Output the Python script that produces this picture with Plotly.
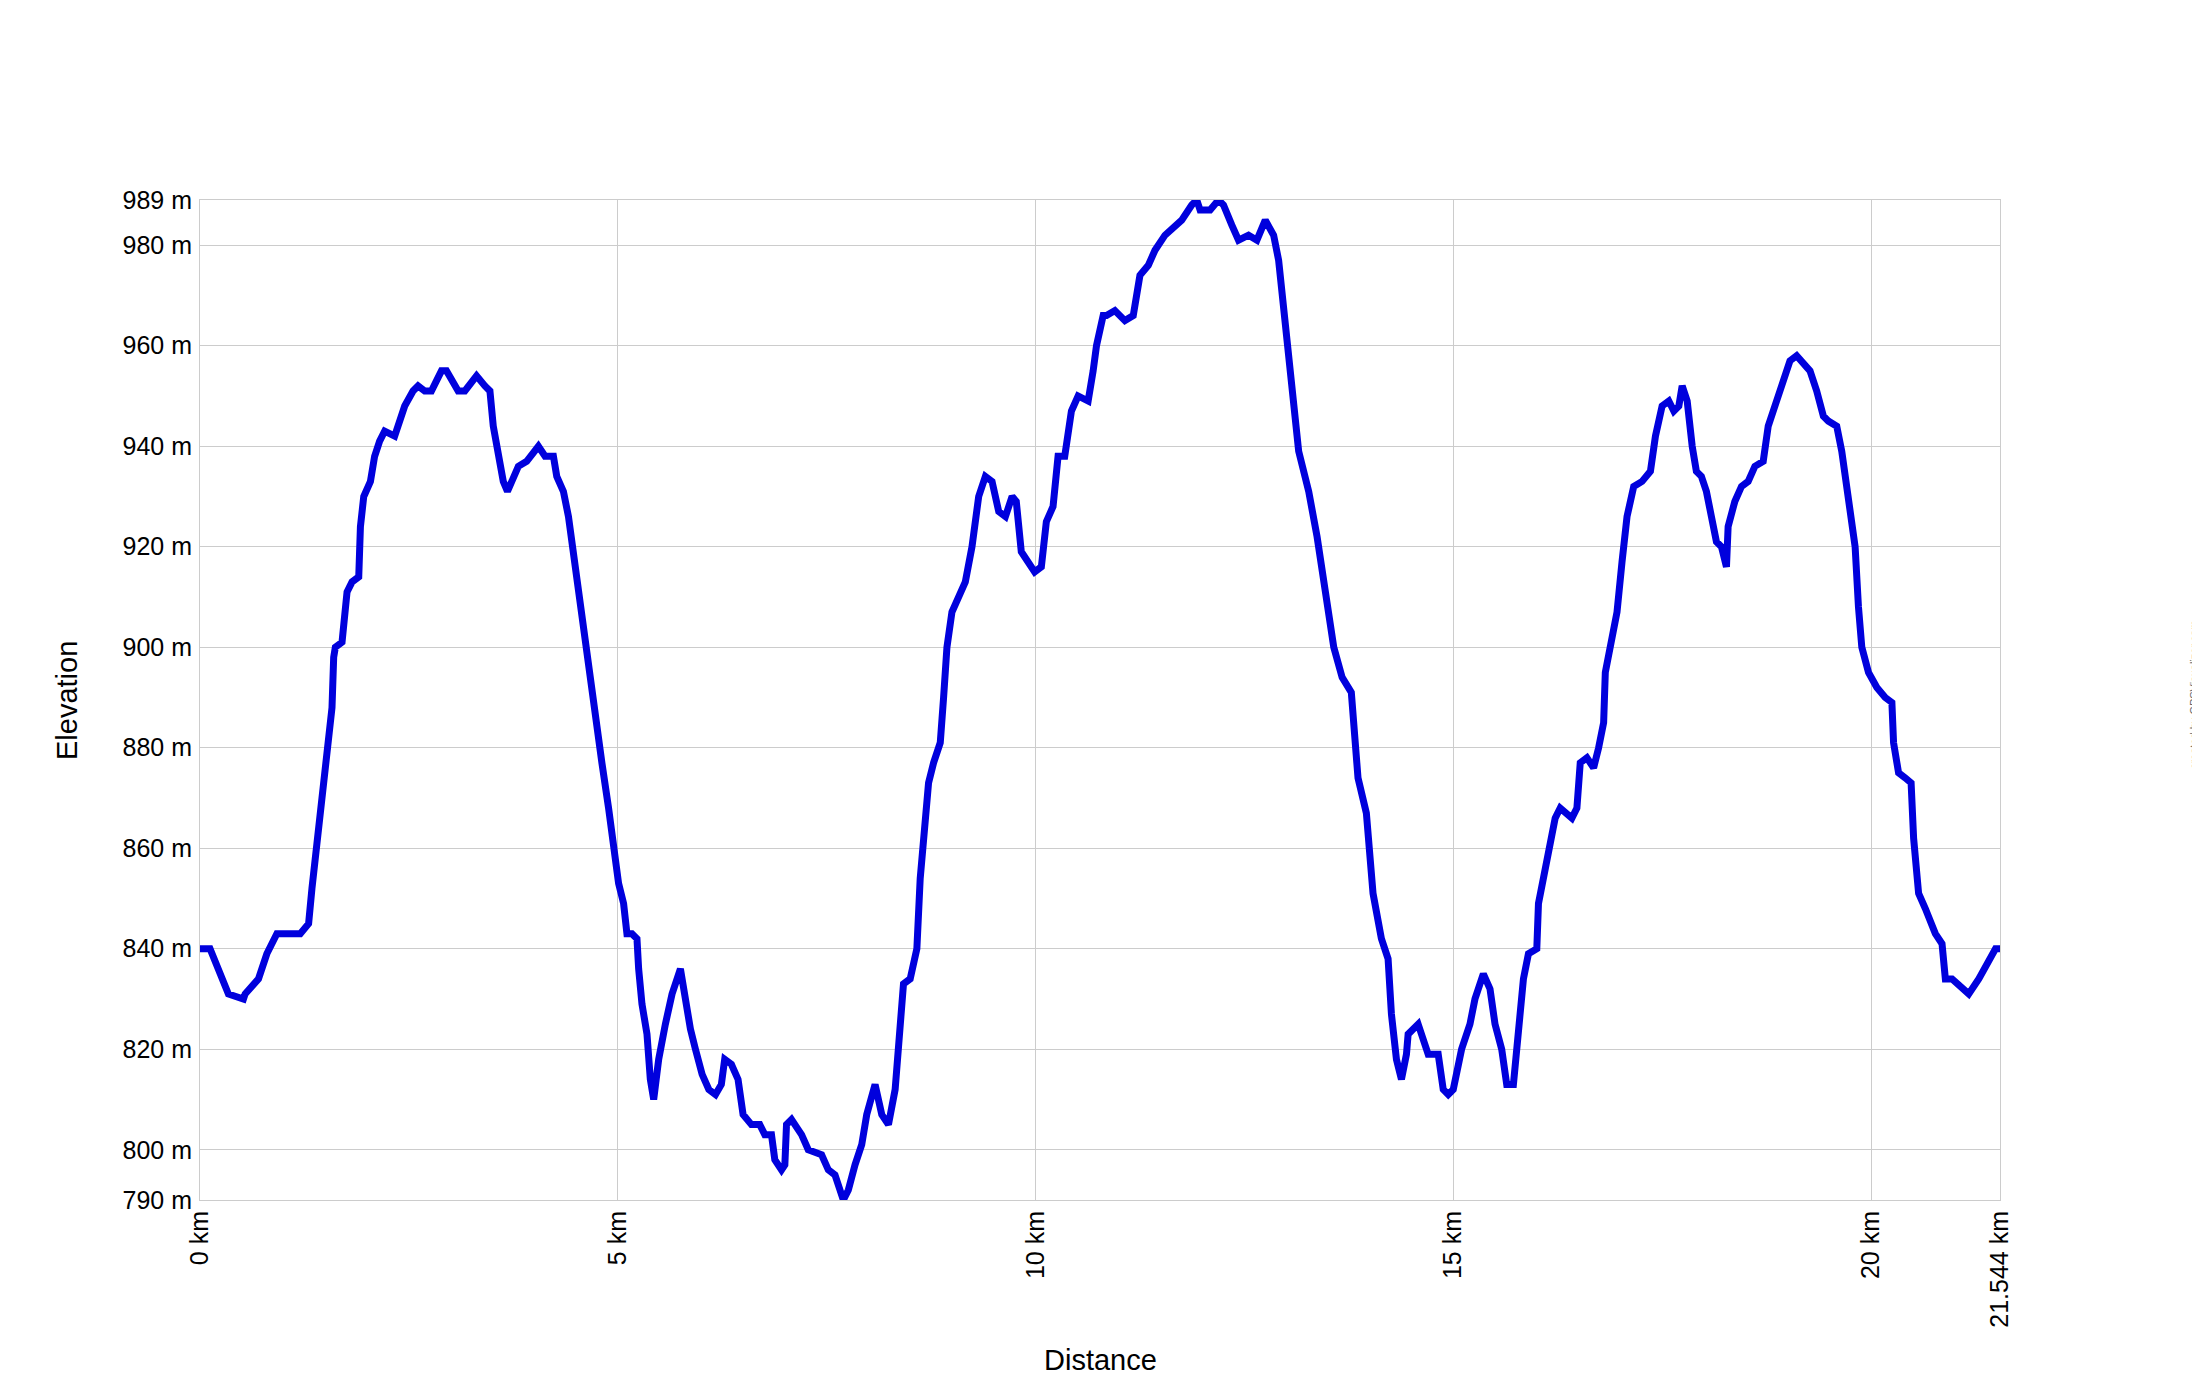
import plotly.graph_objects as go

distance_km = [
    0, 0.12, 0.34, 0.52, 0.54, 0.66, 0.70, 0.80, 0.90, 0.92, 1.20, 1.30, 1.34, 1.40, 1.44, 1.48,
    1.54, 1.58, 1.60, 1.62, 1.70, 1.72, 1.76, 1.82, 1.90, 1.92, 1.96, 2.04, 2.09, 2.15, 2.21,
    2.33, 2.39, 2.45, 2.55, 2.61, 2.69, 2.77, 2.83, 2.89, 2.95, 3.01, 3.09, 3.17, 3.25, 3.31,
    3.41, 3.47, 3.51, 3.57, 3.63, 3.68, 3.75, 3.81, 3.91, 3.99, 4.05, 4.13, 4.23, 4.27, 4.35,
    4.41, 4.49, 4.57, 4.65, 4.73, 4.81, 4.89, 4.95, 5.01, 5.07, 5.11, 5.17, 5.23, 5.25, 5.29,
    5.35, 5.39, 5.43, 5.49, 5.57, 5.65, 5.75, 5.81, 5.87, 5.93, 6.01, 6.09, 6.17, 6.24, 6.28,
    6.36, 6.44, 6.50, 6.60, 6.70, 6.76, 6.84, 6.88, 6.96, 7.00, 7.02, 7.08, 7.16, 7.20, 7.28,
    7.44, 7.52, 7.60, 7.70, 7.76, 7.84, 7.92, 7.98, 8.08, 8.16, 8.24, 8.32, 8.38, 8.42, 8.50,
    8.58, 8.62, 8.68, 8.72, 8.78, 8.86, 8.90, 8.94, 9.00, 9.08, 9.16, 9.24, 9.32, 9.40, 9.48,
    9.56, 9.64, 9.72, 9.77, 9.83, 9.91, 9.99, 10.07, 10.13, 10.21, 10.27, 10.35, 10.43, 10.51,
    10.63, 10.69, 10.73, 10.81, 10.85, 10.95, 11.07, 11.17, 11.25, 11.35, 11.43, 11.55, 11.67,
    11.75, 11.87, 11.93, 11.97, 12.09, 12.19, 12.25, 12.35, 12.43, 12.55, 12.65, 12.75, 12.85,
    12.91, 12.99, 13.07, 13.15, 13.27, 13.37, 13.47, 13.57, 13.67, 13.78, 13.86, 13.96, 14.04,
    14.14, 14.22, 14.26, 14.32, 14.38, 14.44, 14.46, 14.58, 14.66, 14.70, 14.82, 14.88, 14.94,
    15.00, 15.10, 15.20, 15.26, 15.36, 15.44, 15.50, 15.58, 15.64, 15.72, 15.78, 15.84, 15.90,
    16.00, 16.02, 16.08, 16.14, 16.22, 16.28, 16.36, 16.42, 16.48, 16.52, 16.60, 16.68, 16.74,
    16.80, 16.82, 16.88, 16.96, 17.02, 17.08, 17.16, 17.26, 17.36, 17.42, 17.50, 17.58, 17.64,
    17.70, 17.74, 17.80, 17.86, 17.91, 17.97, 18.03, 18.09, 18.15, 18.21, 18.27, 18.29, 18.37,
    18.45, 18.53, 18.61, 18.71, 18.77, 18.85, 18.93, 19.03, 19.11, 19.17, 19.27, 19.35, 19.43,
    19.49, 19.59, 19.65, 19.73, 19.81, 19.85, 19.89, 19.97, 20.07, 20.17, 20.25, 20.27, 20.33,
    20.41, 20.48, 20.51, 20.57, 20.65, 20.77, 20.85, 20.89, 20.97, 21.09, 21.17, 21.29, 21.41,
    21.49, 21.544,
]

elevation_m = [
    840, 840, 831, 830, 831, 833, 834, 839, 842, 843, 843, 845, 852, 861, 868, 874,
    881, 888, 898, 900, 901, 905, 911, 913, 914, 924, 930, 933, 938, 941, 943,
    942, 945, 948, 951, 952, 951, 951, 953, 955, 955, 953, 951, 951, 953, 954,
    952, 951, 944, 939, 933, 931, 934, 936, 937, 939, 940, 938, 938, 934, 931,
    926, 916, 906, 895, 887, 877, 868, 859, 853, 849, 843, 843, 842, 836, 829,
    823, 814, 810, 818, 825, 831, 836, 829, 824, 820, 815, 812, 811, 813, 818,
    817, 814, 807, 805, 805, 803, 803, 798, 796, 797, 805, 806, 804, 803, 800,
    799, 796, 795, 790, 792, 797, 801, 807, 813, 807, 805, 812, 823, 833, 834,
    840, 854, 867, 873, 877, 881, 890, 900, 907, 910, 913, 920, 930, 934, 933,
    927, 926, 930, 929, 919, 917, 915, 916, 925, 928, 938, 938, 947, 950,
    949, 955, 960, 966, 966, 967, 965, 966, 974, 976, 979, 982, 984,
    985, 988, 989, 987, 987, 989, 988, 984, 981, 982, 981, 985, 982,
    977, 965, 952, 939, 931, 922, 911, 900, 894, 891, 874, 867, 851,
    842, 838, 827, 818, 814, 819, 823, 825, 821, 819, 819, 812, 811,
    812, 820, 825, 830, 835, 832, 825, 820, 813, 813, 823, 834, 839,
    840, 849, 854, 860, 866, 868, 867, 866, 868, 877, 878, 876, 880,
    885, 895, 901, 907, 917, 926, 932, 933, 935, 942, 948, 949, 947,
    948, 952, 949, 940, 935, 934, 931, 926, 921, 920, 916, 924, 929,
    932, 933, 936, 937, 944, 948, 952, 957, 958, 957, 955, 951, 946,
    945, 944, 939, 929, 920, 908, 900, 895, 892, 890, 889, 881, 875,
    874, 873, 862, 851, 848, 843, 841, 834, 834, 832, 831, 834, 838,
    840, 840,
]

x_tickvals = [0, 5, 10, 15, 20, 21.544]
x_ticktext = ["0 km", "5 km", "10 km", "15 km", "20 km", "21.544 km"]
y_tickvals = [790, 800, 820, 840, 860, 880, 900, 920, 940, 960, 980, 989]
y_ticktext = [f"{v} m" for v in y_tickvals]

FONT = "Liberation Sans, Arial, sans-serif"
GRID = "#CCCCCC"

fig = go.Figure()
fig.add_trace(go.Scatter(
    x=distance_km, y=elevation_m, mode="lines",
    line=dict(color="#0000DD", width=7),
    hoverinfo="x+y", showlegend=False,
))

fig.update_layout(
    width=2192, height=1392,
    margin=dict(l=192, r=200, t=192, b=200),
    paper_bgcolor="white", plot_bgcolor="white",
    font=dict(family=FONT, color="black"),
    xaxis=dict(
        range=[0, 21.544], tickvals=x_tickvals, ticktext=x_ticktext,
        tickangle=-90, tickfont=dict(size=25, family=FONT, color="black"),
        showgrid=True, gridcolor=GRID, gridwidth=1,
        showline=True, linecolor=GRID, linewidth=1, mirror=True,
        zeroline=False, ticks="", ticklabelstandoff=0,
    ),
    yaxis=dict(
        range=[790, 989], tickvals=y_tickvals, ticktext=y_ticktext,
        tickfont=dict(size=25, family=FONT, color="black"),
        showgrid=True, gridcolor=GRID, gridwidth=1,
        showline=True, linecolor=GRID, linewidth=1, mirror=True,
        zeroline=False, ticks="", ticklabelstandoff=2,
    ),
    annotations=[
        dict(text="Elevation", xref="paper", yref="paper", x=-0.0739, y=0.5,
             textangle=-90, showarrow=False, xanchor="center", yanchor="middle",
             font=dict(size=29, family=FONT, color="black")),
        dict(text="Distance", xref="paper", yref="paper", x=0.5, y=-0.16,
             showarrow=False, xanchor="center", yanchor="middle",
             font=dict(size=29, family=FONT, color="black")),
        dict(text="created by GPSVisualizer.com", xref="paper", yref="paper",
             x=1.1078, y=0.505, textangle=-90, showarrow=False,
             xanchor="center", yanchor="middle",
             font=dict(size=11, family=FONT, color="#666666")),
    ],
)

fig.write_html("out.html")
